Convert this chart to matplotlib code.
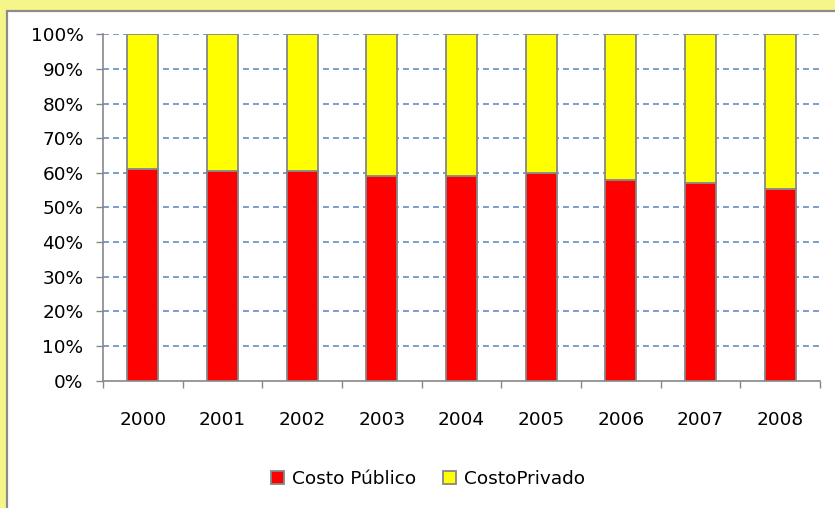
import matplotlib
matplotlib.use("Agg")
import matplotlib.pyplot as plt
from matplotlib.patches import Rectangle, Patch
import numpy as np

years = ["2000", "2001", "2002", "2003", "2004", "2005", "2006", "2007", "2008"]
costo_publico = [61.0, 60.5, 60.5, 59.0, 59.0, 59.9, 57.9, 57.0, 55.4]
costo_privado = [39.0, 39.5, 39.5, 41.0, 41.0, 40.1, 42.1, 43.0, 44.6]
y_ticks = [0, 10, 20, 30, 40, 50, 60, 70, 80, 90, 100]
y_labels = [f"{v}%" for v in y_ticks]
series_names = ["Costo Público", "CostoPrivado"]

plt.rcParams['lines.scale_dashes'] = False
plt.rcParams['font.family'] = ['DejaVu Sans']

W, H = 835, 508
fig = plt.figure(figsize=(W / 100, H / 100), dpi=100)
fig.patch.set_facecolor('#f5f58a')

# white chart panel with gray border
panel = Rectangle((6.5 / W, -20 / H), (W + 20) / W, (H - 10.5 + 20) / H,
                  transform=fig.transFigure, facecolor='white',
                  edgecolor='#8c8c8c', linewidth=1.6, zorder=-10)
fig.patches.append(panel)

ax = fig.add_axes([103 / W, 1 - 380.5 / H, (820 - 103) / W, (380.5 - 34.3) / H])
ax.set_facecolor('none')
ax.set_zorder(5)

x = np.arange(len(years))
ec = '#878787'
ax.bar(x, costo_publico, width=0.39, color='#ff0000', edgecolor=ec, linewidth=1.3, zorder=3)
ax.bar(x, costo_privado, width=0.39, bottom=costo_publico, color='#ffff00',
       edgecolor=ec, linewidth=1.3, zorder=3)

ax.set_xlim(-0.5, len(years) - 0.5)
ax.set_ylim(0, 100)
ax.set_yticks(y_ticks)
ax.set_yticklabels(y_labels, fontsize=13.3)

for v in y_ticks[1:]:
    ax.axhline(v, color='#5585c4', linewidth=1.1, linestyle=(0, (4.3, 2.9)), zorder=1)

ax.set_xticks(np.arange(-0.5, len(years), 1.0))
ax.set_xticklabels([])
ax.set_xticks(x, minor=True)
ax.set_xticklabels(years, minor=True, fontsize=13.3)
ax.tick_params(axis='x', which='major', length=5, width=1, color=ec, direction='out')
ax.tick_params(axis='x', which='minor', length=0, pad=22)
ax.tick_params(axis='y', length=5, width=1, color=ec, direction='out', pad=9)

for s in ['top', 'right']:
    ax.spines[s].set_visible(False)
for s in ['left', 'bottom']:
    ax.spines[s].set_color(ec)
    ax.spines[s].set_linewidth(1.2)

handles = [Patch(facecolor='#ff0000', edgecolor=ec, linewidth=1.3),
           Patch(facecolor='#ffff00', edgecolor=ec, linewidth=1.3)]
leg = fig.legend(handles, series_names, loc='center', bbox_to_anchor=(428 / W, 1 - 479 / H),
                 ncol=2, frameon=False, fontsize=13.3, handlelength=0.7, handleheight=0.7,
                 handletextpad=0.4, columnspacing=1.5)
leg.set_zorder(6)

fig.savefig("out.png", dpi=100, facecolor=fig.get_facecolor())
